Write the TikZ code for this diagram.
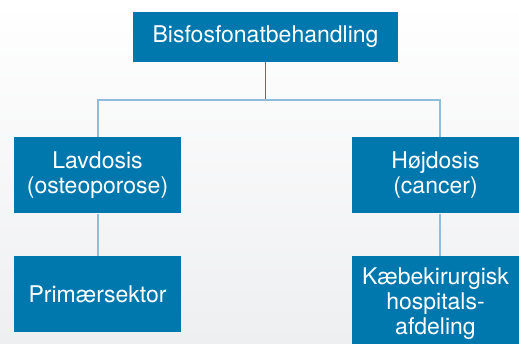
\documentclass[tikz,border=0pt]{standalone}
\usepackage{fontspec}
\setmainfont{TeX Gyre Heros}
\definecolor{boxblue}{HTML}{0077AD}
\definecolor{linelight}{HTML}{8EBEDB}
\definecolor{linedark}{HTML}{2A7FB0}
\definecolor{bgbottom}{HTML}{EEEFF1}
\begin{document}
\begin{tikzpicture}[x=1pt,y=-1pt,
  box/.style={fill=boxblue, text=white, inner sep=0pt, align=center,
    font=\fontsize{23}{25}\selectfont},
  conn/.style={draw=linelight, line width=1.3pt},
  conndark/.style={draw=linedark, line width=1.1pt}]
\useasboundingbox (0,0) rectangle (519,344);
\clip (0,0) rectangle (519,344);
\shade[top color=white, bottom color=bgbottom] (0,0) rectangle (519,344);
\node[box, minimum width=265pt, minimum height=50pt] (top) at (265.5,37) {Bisfosfonatbehandling};
\node[box, minimum width=167pt, minimum height=76pt] (lav) at (97.5,175.5) {Lavdosis\\(osteoporose)};
\node[box, minimum width=167pt, minimum height=76pt] (prim) at (97.5,294.5) {Primærsektor};
\node[box, minimum width=167pt, minimum height=76pt] (hoj) at (435.5,175.5) {Højdosis\\(cancer)};
\node[box, minimum width=167pt, minimum height=96pt] (kaebe) at (435.5,304) {Kæbekirurgisk\\hospitals-\\afdeling};
\coordinate (split) at (265.5,100);
\coordinate (lcorner) at (98,100);
\coordinate (rcorner) at (440,100);
\draw[conndark] (top.south) -- (split);
\draw[conn] (lav.north -| lcorner) -- (lcorner) -- (rcorner) -- (hoj.north -| rcorner);
\draw[conn] (lav.south -| lcorner) -- (prim.north -| lcorner);
\draw[conn] (hoj.south -| rcorner) -- (kaebe.north -| rcorner);
\end{tikzpicture}
\end{document}
